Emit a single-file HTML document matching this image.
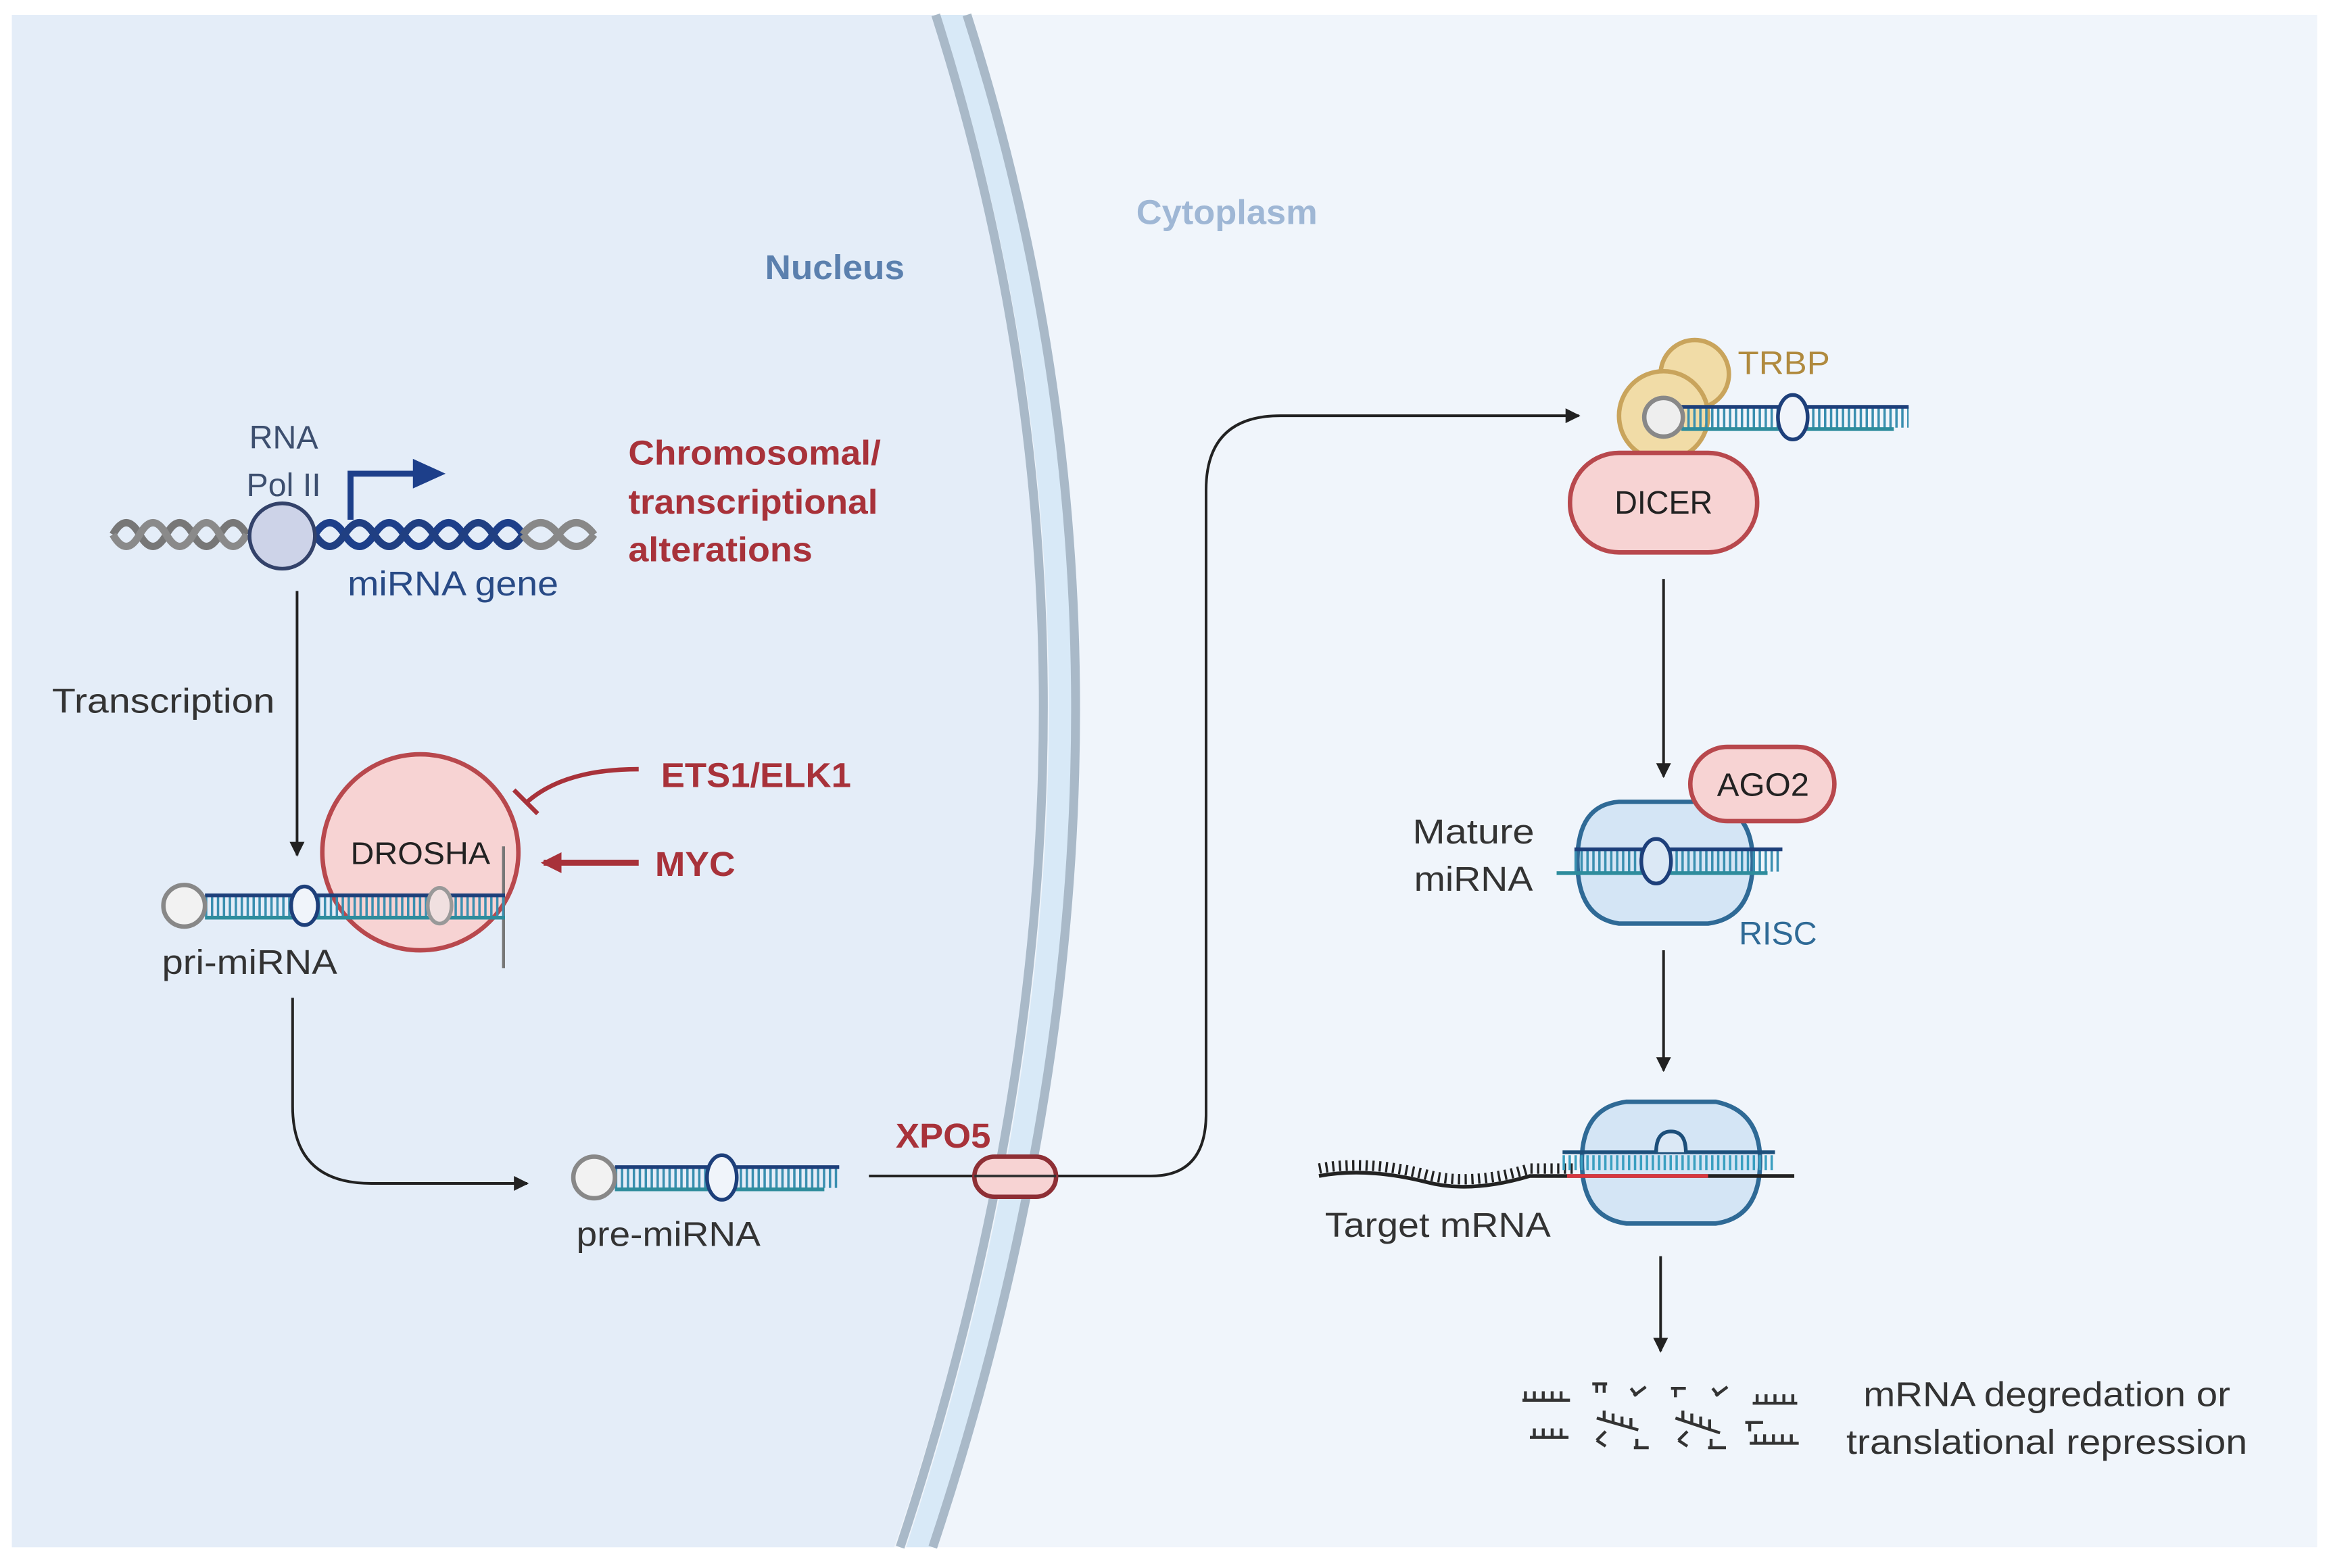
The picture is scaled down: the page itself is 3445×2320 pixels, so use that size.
<!DOCTYPE html>
<html><head><meta charset="utf-8"><style>
html,body{margin:0;padding:0;background:#fff;}
svg{display:block;}
text{font-family:"Liberation Sans",sans-serif;}
</style></head><body>
<svg width="3445" height="2320" viewBox="0 0 1568 1056" preserveAspectRatio="none" xmlns="http://www.w3.org/2000/svg">
<defs>
<marker id="ah" markerWidth="10" markerHeight="10" refX="9" refY="5" orient="auto" markerUnits="userSpaceOnUse"><path d="M0,0 L10,5 L0,10 z" fill="#222"/></marker>
<marker id="ahr" markerWidth="14" markerHeight="14" refX="12" refY="7" orient="auto" markerUnits="userSpaceOnUse"><path d="M0,0 L14,7 L0,14 z" fill="#a8323a"/></marker>
</defs>
<rect width="1568" height="1056" fill="#ffffff"/>
<rect x="8" y="10" width="1552" height="1032" fill="#f0f5fb"/>
<path d="M8,10 L628,10 Q786,500 602,1042 L8,1042 z" fill="#e4edf8"/>
<path d="M633,10 Q790,500 610,1042 L628,1042 Q810,500 650,10 z" fill="#d8e9f7"/>
<path d="M630,10 Q786,500 606,1042" fill="none" stroke="#a9b9c8" stroke-width="6"/>
<path d="M651,10 Q808,500 628,1042" fill="none" stroke="#a9b9c8" stroke-width="6"/>

<text x="562" y="188" font-size="23" font-weight="bold" fill="#5b80ae" text-anchor="middle" textLength="94" lengthAdjust="spacingAndGlyphs">Nucleus</text>
<text x="826" y="151" font-size="23" font-weight="bold" fill="#9fb7d5" text-anchor="middle" textLength="122" lengthAdjust="spacingAndGlyphs">Cytoplasm</text>

<g fill="none" stroke-width="5">
<path d="M76,360 q9,-16 18,0 t18,0 t18,0 t18,0 t18,0" stroke="#777"/>
<path d="M76,360 q9,16 18,0 t18,0 t18,0 t18,0 t18,0" stroke="#8a8a8a"/>
<path d="M212,360 q10,-16 20,0 t20,0 t20,0 t20,0 t20,0 t20,0 t20,0" stroke="#1d3f8a"/>
<path d="M212,360 q10,16 20,0 t20,0 t20,0 t20,0 t20,0 t20,0 t20,0" stroke="#203f82"/>
<path d="M352,360 q12,-16 24,0 t24,0" stroke="#888"/>
<path d="M352,360 q12,16 24,0 t24,0" stroke="#888"/>
</g>
<circle cx="190" cy="361" r="22" fill="#cdd3e8" stroke="#33426a" stroke-width="2.5"/>
<path d="M236,350 L236,319 L280,319" fill="none" stroke="#1d3f8a" stroke-width="4"/>
<path d="M278,309 L300,319 L278,329 z" fill="#1d3f8a"/>
<text x="191" y="302" font-size="22" fill="#3d4f6f" text-anchor="middle">RNA</text>
<text x="191" y="334" font-size="22" fill="#3d4f6f" text-anchor="middle">Pol II</text>
<text x="305" y="401" font-size="23" fill="#284a86" text-anchor="middle" textLength="142" lengthAdjust="spacingAndGlyphs">miRNA gene</text>
<g font-size="23" font-weight="bold" fill="#a8323a">
<text x="423" y="313" textLength="170" lengthAdjust="spacingAndGlyphs">Chromosomal/</text>
<text x="423" y="346" textLength="168" lengthAdjust="spacingAndGlyphs">transcriptional</text>
<text x="423" y="378" textLength="124" lengthAdjust="spacingAndGlyphs">alterations</text>
<text x="445" y="530" textLength="128" lengthAdjust="spacingAndGlyphs">ETS1/ELK1</text>
<text x="441" y="590" textLength="54" lengthAdjust="spacingAndGlyphs">MYC</text>
<text x="603" y="773" textLength="64" lengthAdjust="spacingAndGlyphs">XPO5</text>
</g>

<g fill="none" stroke="#222" stroke-width="1.8">
<path d="M200,398 L200,576" marker-end="url(#ah)"/>
<path d="M197,672 L197,745 Q197,797 250,797 L355,797" marker-end="url(#ah)"/>
<path d="M585,792 L775,792 Q812,792 812,750 L812,330 Q812,280 862,280 L1063,280" marker-end="url(#ah)"/>
<path d="M1120,390 L1120,523" marker-end="url(#ah)"/>
<path d="M1120,640 L1120,721" marker-end="url(#ah)"/>
<path d="M1118,846 L1118,910" marker-end="url(#ah)"/>
</g>
<text x="110" y="480" font-size="23" fill="#333" text-anchor="middle" textLength="150" lengthAdjust="spacingAndGlyphs">Transcription</text>

<circle cx="283" cy="574" r="66" fill="#f7d3d3" stroke="#b8484d" stroke-width="3"/>
<text x="283" y="582" font-size="21" fill="#222" text-anchor="middle" textLength="94" lengthAdjust="spacingAndGlyphs">DROSHA</text>
<path d="M339,570 L339,652" stroke="#777" stroke-width="2"/>
<path d="M430,518 Q380,518 355,540" fill="none" stroke="#a8323a" stroke-width="3"/>
<path d="M346,532 L362,548" stroke="#a8323a" stroke-width="3"/>
<path d="M430,581 L366,581" stroke="#a8323a" stroke-width="4" marker-end="url(#ahr)"/>

<line x1="138" y1="610" x2="340" y2="610" stroke="#3a8fb0" stroke-width="14" stroke-dasharray="1.6 2.4"/>
<line x1="138" y1="603" x2="340" y2="603" stroke="#1d3f7a" stroke-width="2.5"/>
<line x1="138" y1="618" x2="340" y2="618" stroke="#2e8c9c" stroke-width="2.5"/>
<circle cx="124" cy="610" r="14" fill="#f2f2f2" stroke="#888" stroke-width="3"/>
<ellipse cx="205" cy="610" rx="9" ry="13" fill="#f0f4fa" stroke="#1d3f7a" stroke-width="2.5"/>
<ellipse cx="296" cy="610" rx="8" ry="12" fill="#f0e0e0" stroke="#999" stroke-width="2.5"/>
<text x="168" y="656" font-size="23" fill="#333" text-anchor="middle" textLength="118" lengthAdjust="spacingAndGlyphs">pri-miRNA</text>

<line x1="414" y1="793" x2="565" y2="793" stroke="#3a8fb0" stroke-width="14" stroke-dasharray="1.6 2.4"/>
<line x1="414" y1="786" x2="565" y2="786" stroke="#1d3f7a" stroke-width="2.5"/>
<line x1="414" y1="801" x2="555" y2="801" stroke="#2e8c9c" stroke-width="2.5"/>
<circle cx="400" cy="793" r="14" fill="#f2f2f2" stroke="#888" stroke-width="3"/>
<ellipse cx="486" cy="793" rx="10" ry="15" fill="#f0f4fa" stroke="#1d3f7a" stroke-width="2.5"/>
<text x="450" y="839" font-size="23" fill="#333" text-anchor="middle" textLength="124" lengthAdjust="spacingAndGlyphs">pre-miRNA</text>

<rect x="656" y="779" width="55" height="27" rx="13.5" fill="#f7d3d3" stroke="#8e2f35" stroke-width="3"/>
<line x1="656" y1="792" x2="711" y2="792" stroke="#333" stroke-width="1.8"/>

<circle cx="1141" cy="252" r="23" fill="#f1dca7" stroke="#c9a45c" stroke-width="3"/>
<circle cx="1120" cy="280" r="30" fill="#f1dca7" stroke="#c9a45c" stroke-width="3"/>
<line x1="1132" y1="281" x2="1285" y2="281" stroke="#3a8fb0" stroke-width="14" stroke-dasharray="1.6 2.4"/>
<line x1="1132" y1="274" x2="1285" y2="274" stroke="#1d3f7a" stroke-width="2.5"/>
<line x1="1132" y1="289" x2="1275" y2="289" stroke="#2e8c9c" stroke-width="2.5"/>
<circle cx="1120" cy="281" r="13" fill="#eee" stroke="#888" stroke-width="3"/>
<ellipse cx="1207" cy="281" rx="10" ry="15" fill="#f0f4fa" stroke="#1d3f7a" stroke-width="2.5"/>
<text x="1170" y="252" font-size="22" fill="#b08a3e" textLength="62" lengthAdjust="spacingAndGlyphs">TRBP</text>
<rect x="1057" y="305" width="126" height="67" rx="33" fill="#f7d3d3" stroke="#b8484d" stroke-width="3"/>
<text x="1120" y="346" font-size="22" fill="#222" text-anchor="middle" textLength="66" lengthAdjust="spacingAndGlyphs">DICER</text>

<path d="M1090,540 L1150,540 Q1180,545 1180,580 Q1180,618 1150,622 L1090,622 Q1062,618 1062,580 Q1062,542 1090,540 z" fill="#d4e5f5" stroke="#2f6a96" stroke-width="3"/>
<line x1="1060" y1="580" x2="1200" y2="580" stroke="#3a8fb0" stroke-width="14" stroke-dasharray="1.6 2.4"/>
<line x1="1060" y1="572" x2="1200" y2="572" stroke="#1d3f7a" stroke-width="2.5"/>
<line x1="1048" y1="588" x2="1190" y2="588" stroke="#2e8c9c" stroke-width="2.5"/>
<ellipse cx="1115" cy="580" rx="10" ry="15" fill="#dbe8f5" stroke="#1d3f7a" stroke-width="2.5"/>
<rect x="1138" y="503" width="97" height="50" rx="25" fill="#f7d3d3" stroke="#b8484d" stroke-width="3"/>
<text x="1187" y="536" font-size="22" fill="#222" text-anchor="middle" textLength="62" lengthAdjust="spacingAndGlyphs">AGO2</text>
<text x="992" y="568" font-size="23" fill="#333" text-anchor="middle" textLength="82" lengthAdjust="spacingAndGlyphs">Mature</text>
<text x="992" y="600" font-size="23" fill="#333" text-anchor="middle" textLength="80" lengthAdjust="spacingAndGlyphs">miRNA</text>
<text x="1197" y="636" font-size="22" fill="#2f6a96" text-anchor="middle">RISC</text>

<path d="M1095,742 L1155,742 Q1185,748 1185,782 Q1185,820 1155,824 L1095,824 Q1065,820 1065,782 Q1065,746 1095,742 z" fill="#d4e5f5" stroke="#2f6a96" stroke-width="3"/>
<path d="M888,792 Q920,786 960,796 Q990,804 1030,792 L1208,792" fill="none" stroke="#222" stroke-width="2.5"/>
<path d="M888,787 Q920,781 960,791 Q990,799 1030,787 L1060,787" fill="none" stroke="#222" stroke-width="7" stroke-dasharray="1.5 3"/>
<line x1="1052" y1="783" x2="1195" y2="783" stroke="#3a9fc0" stroke-width="10" stroke-dasharray="1.6 2.4"/>
<line x1="1052" y1="776" x2="1195" y2="776" stroke="#1d4f7a" stroke-width="2.5"/>
<line x1="1055" y1="792" x2="1150" y2="792" stroke="#d9363e" stroke-width="2.5"/>
<path d="M1115,776 Q1115,762 1125,762 Q1135,762 1135,776" fill="#dbe8f5" stroke="#1d4f7a" stroke-width="2.5"/>
<text x="968" y="833" font-size="23" fill="#333" text-anchor="middle" textLength="152" lengthAdjust="spacingAndGlyphs">Target mRNA</text>

<g stroke="#333" stroke-width="2" fill="none">
<path d="M1025,943 h32 M1027,943 v-6 M1033,943 v-6 M1039,943 v-6 M1045,943 v-6 M1051,943 v-6"/>
<path d="M1030,968 h26 M1033,968 v-6 M1039,968 v-6 M1045,968 v-6 M1051,968 v-6"/>
<path d="M1072,932 h10 M1075,932 v6 M1080,932 v6"/>
<path d="M1075,955 l28,8 M1080,956 v-6 M1086,958 v-6 M1092,960 v-6 M1098,961 v-6"/>
<path d="M1100,940 l8,-6 M1102,940 l-4,-5"/>
<path d="M1075,970 l6,-6 M1075,970 l6,4"/>
<path d="M1100,975 h10 M1102,975 v-6"/>
<path d="M1125,935 h10 M1128,935 v6"/>
<path d="M1128,955 l30,10 M1133,956 v-6 M1139,958 v-6 M1145,960 v-6 M1151,962 v-6"/>
<path d="M1155,940 l8,-6 M1157,940 l-4,-5"/>
<path d="M1130,970 l6,-6 M1130,970 l6,4"/>
<path d="M1150,975 h12 M1152,975 v-6"/>
<path d="M1175,958 h12 M1178,958 v6"/>
<path d="M1180,945 h30 M1183,945 v-6 M1189,945 v-6 M1195,945 v-6 M1201,945 v-6 M1207,945 v-6"/>
<path d="M1178,972 h33 M1182,972 v-6 M1188,972 v-6 M1194,972 v-6 M1200,972 v-6 M1206,972 v-6"/>
</g>
<text x="1378" y="947" font-size="23" fill="#333" text-anchor="middle" textLength="247" lengthAdjust="spacingAndGlyphs">mRNA degredation or</text>
<text x="1378" y="979" font-size="23" fill="#333" text-anchor="middle" textLength="270" lengthAdjust="spacingAndGlyphs">translational repression</text>
</svg>
</body></html>
